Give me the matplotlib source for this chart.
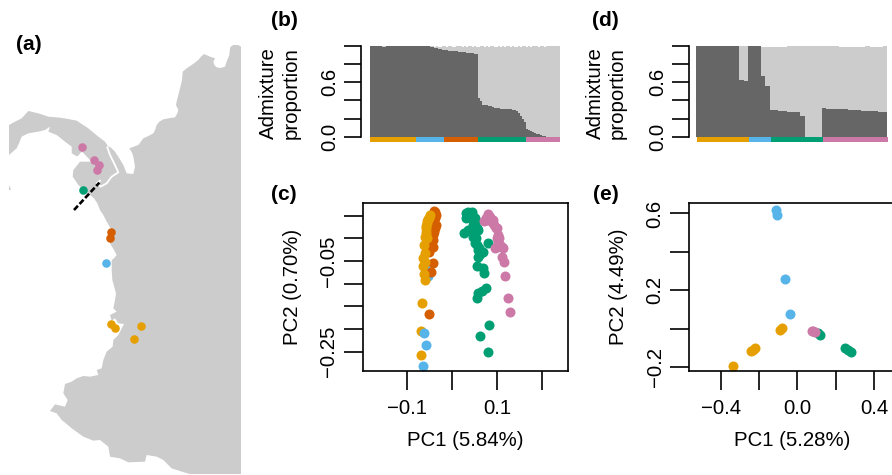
"""Admixture map, barplots and PCA panels."""
import matplotlib; matplotlib.use("Agg")
import matplotlib.pyplot as plt
import numpy as np
plt.rcParams["font.family"] = ["Liberation Sans", "DejaVu Sans"]

W, H = 892, 475
ORANGE, SKY, VERM, GREEN, PINK = "#E69F00", "#56B4E9", "#D55E00", "#009E73", "#CC79A7"
DARK, LIGHT = "#666666", "#CCCCCC"
FS = 14.7

# ---------- map (units: 1/3 px, south part has its own y origin) ----------
coast_north_x = [723,712,700,692,690,688,681,675,662,650,643,640,645,630,612,603,595,575,560,548,547,545,535,531,528,535,532,525,505,490,478,470,466,460,445,430,415,388,396,400,405,400,380,370,358,345,332,
                 325,315,295,265,230,205,180,145,115,85,65,45,27,27,50,57,65,85,115,135,150,145,170,195,215,215,232,245,272,240,220,218,235,250,265,282,292,300,310,320,335,330,342]
coast_north_y = [50,44,45,50,55,75,92,110,114,112,105,95,85,80,72,80,90,105,115,125,140,155,195,210,225,240,250,262,265,268,275,285,298,310,318,325,345,355,368,380,410,432,430,405,385,365,352,
                 350,335,320,295,272,267,263,260,250,243,265,275,285,375,355,340,320,310,305,300,290,305,315,335,350,370,380,365,395,395,420,440,465,478,490,505,520,540,555,575,600,640,660]
coast_south_x = [350,342,335,335,337,348,345,340,350,330,335,345,355,372,355,340,338,320,310,305,290,295,270,250,230,215,195,190,203,195,165,150,170,185,200,215,250,280,300,325,330,360,385,435,440,470,490,515,545,570,723]
coast_south_y = [15,25,30,60,90,130,150,175,185,195,212,205,220,222,255,270,290,305,330,355,360,375,380,378,385,395,402,430,450,470,463,483,490,510,522,535,560,572,570,590,620,625,637,635,615,620,630,655,665,672,672]
islet_x = [27,33,27]
islet_y = [465,480,480]
border_x = [322,330,340,355,335,320,302,290,300]
border_y = [352,375,395,427,440,460,470,460,452]
inlet_x = [232,248,272]
inlet_y = [382,370,395]
transect_x = [222,298]
transect_y = [540,458]

site_pink = ([246,283,296,291], [352,391,404,421])
site_green = ([248], [480])
site_verm = ([333,329], [607,623])
site_sky = ([318], [698])
site_orange = ([333,346,422,402], [882,895,889,928])

# ---------- admixture (b) ----------
group_sizes_b = [23,14,17,24,17]
group_cols_b = [ORANGE,SKY,VERM,GREEN,PINK]
dark_b = [1,1,1,1,1,1,.985,.985,1,1,1,1,1,1,1,1,1,1,1,1,1,1,1,1,1,1,1,1,1,
          .995,.99,.985,.98,.975,.97,.965,.96,
          .955,.953,.95,.948,.945,.942,.94,.937,.935,.932,.93,.927,.925,.922,.92,.915,.91,
          .43,.39,.35,.35,.345,.34,.335,.33,
          .32,.32,.315,.31,.31,.305,.305,.30,.30,.295,.29,.285,
          .26,.23,.20,.16,.08,.07,.06,.05,.04,.035,.03,.02,.01,.005,0,0,0,0,0,0,0]
top_b = [1,1,1,1,1,1,1,1,1,1,1,1,1,1,1,1,1,1,1,1,1,1,1,1,1,1,1,1,1,1,1,1,
         .985,1,.985,.985,1,1,.985,1,1,.985,.985,1,1,1,.985,1,.985,1,1,.985,1,.985,.985,1,1,.985,1,
         .985,1,1,.985,.985,1,.985,1,.985,1,1,.985,1,.985,.985,1,.985,1,1,.985,1,.985,1,1,1,.985,1,1,.985,1,1,1,1,1,1,1]

# ---------- admixture (d) ----------
group_sizes_d = [12,5,12,15]
group_cols_d = [ORANGE,SKY,GREEN,PINK]
dark_d = [1,1,1,1,1,1,1,1,1,1,.625,.615,1,1,1,.67,.56,
          .295,.29,.285,.28,.275,.27,.27,.225,0,0,0,0,
          .315,.31,.31,.305,.30,.30,.295,.29,.29,.285,.285,.28,.28,.275,.275]
top_d = [1,1,1,1,1,1,1,1,1,1,1,1,1,1,1,.99,.99,.99,.99,.99,.99,1,1,1,1,1,1,1,1,
         1,1,1,1,.99,.99,.99,.99,.99,.99,1,.99,.99,.99,1]

# ---------- PCA (c) ----------
c_verm_x = [-.0387,-.0351,-.0410,-.0358,-.0387,-.0424,-.0410,-.0498,-.0424,-.0461,-.0513,-.0373,-.0373,-.0373,-.0410,-.0432]
c_verm_y = [.0603,.0515,.0404,.0294,.0147,-.0037,-.0184,-.0294,-.0551,-.0735,-.1662,.0574,.0441,.0221,.0074,-.0184]
c_sky_x = [-.0572,-.0594,-.0520,-.0616,-.0572,-.0646]
c_sky_y = [-.0147,-.0625,-.0831,-.2081,-.2346,-.2816]
c_orange_x = [-.0483,-.0520,-.0542,-.0572,-.0572,-.0542,-.0616,-.0587,-.0631,-.0587,-.0646,-.0616,-.0594,-.0653,-.0675,-.0675,-.0498,-.0542,-.0572,-.0572,-.0594]
c_orange_y = [.0515,.0426,.0331,.0221,.0074,.0015,-.0147,-.0331,-.0441,-.0515,-.0603,-.0794,-.0919,-.1419,-.2044,-.2574,.0456,.0382,.0279,.0147,.0037]
c_green_x = [.0314,.0314,.0439,.0513,.0476,.0587,.0269,.0365,.0476,.0513,.0587,.0587,.0697,.0808,.0557,.0697,.0705,.0749,.0661,.0587,.0550,.0815,.0616,.0801,
             .0365,.0439,.0365,.0461,.0513,.0550,.0476,.0535,.0565,.0609,.0624]
c_green_y = [.0551,.0456,.0529,.0441,.0294,.0184,.0110,.0184,.0037,-.0110,-.0257,-.0404,-.0309,-.0110,-.0603,-.0647,-.0757,-.1103,-.1162,-.1213,-.1309,-.1904,-.2154,-.2515,
             .0588,.0588,.0478,.0404,.0331,.0221,.0147,0,-.0147,-.0221,-.0353]
c_pink_x = [.0808,.0845,.0712,.0882,.0934,.0993,.1030,.1030,.0956,.1140,.1118,.1162,.1170,.1236,.1280,.1066,.0749,.0808,.0919,.0970,.1007,.1052,.1103,.0993,.0771]
c_pink_y = [.0529,.0478,.0382,.0368,.0294,.0221,.0074,-.0074,-.0206,-.0206,-.0404,-.0515,-.0831,-.1316,-.1618,-.0147,.0441,.0441,.0404,.0221,0,0,-.0184,-.0184,.0404]

# ---------- PCA (e) ----------
e_sky_x = [-.1113,-.1043,-.0626,-.0365]
e_sky_y = [.6163,.5903,.2569,.0764]
e_orange_x = [-.3339,-.2435,-.2330,-.2209,-.0904,-.0817]
e_orange_y = [-.1927,-.1163,-.1111,-.1024,-.0069,.0052]
e_green_x = [.1183,.1096,.2487,.2661,.2800]
e_green_y = [-.0330,-.0243,-.0990,-.1111,-.1198]
e_pink_x = [.0748,.0922,.0835]
e_pink_y = [-.0104,-.0156,-.0122]

fig = plt.figure(figsize=(W/100, H/100), dpi=100, facecolor="white")
def px_axes(l, t, r, b):
    return fig.add_axes([l/W, 1-b/H, (r-l)/W, (b-t)/H])
def ftext(x, y, s, **kw):
    kw.setdefault("fontsize", FS); kw.setdefault("ha", "center"); kw.setdefault("va", "center")
    fig.text(x/W, 1-y/H, s, **kw)

for x, y, s in [(28.7,44,"(a)"),(284,20,"(b)"),(605,20,"(d)"),(284,195,"(c)"),(606,195,"(e)")]:
    ftext(x, y, s, fontweight="bold", fontsize=15)

# map
ax = px_axes(0, 45, 241, 474)
ax.set_xlim(0, 723); ax.set_ylim(1332, 45); ax.axis("off")
land_x = coast_north_x + coast_south_x
land_y = coast_north_y + [v+660 for v in coast_south_y]
ax.fill(land_x, land_y, color=LIGHT, lw=0)
ax.fill(islet_x, islet_y, color=LIGHT, lw=0)
ax.plot(border_x, border_y, color="white", lw=1.3)
ax.plot(inlet_x, inlet_y, color="white", lw=1.0)
ax.plot(transect_x, transect_y, color="black", lw=1.9, ls=(0, (2.2, 0.9)))
for (xs, ys), col in [(site_pink,PINK),(site_green,GREEN),(site_verm,VERM),(site_sky,SKY),(site_orange,ORANGE)]:
    ax.scatter(xs, ys, s=38, color=col, lw=0, zorder=3, clip_on=False)

# admixture bars
def admix(rect, dark, top, sizes, cols, strip_x0, ylab_x):
    l, t, r, b, bar_l = rect
    ax = px_axes(l, t, r, b)
    n = len(dark)
    unit = (r-bar_l)/n
    ax.set_xlim((l-bar_l)/unit, n); ax.set_ylim(0, 1)
    idx = np.arange(n)
    ax.bar(idx, top, width=1, align="edge", color=LIGHT, lw=0, antialiased=False)
    ax.bar(idx, dark, width=1, align="edge", color=DARK, lw=0, antialiased=False)
    left = strip_x0
    for s, c in zip(sizes, cols):
        ax.bar(left, 0.055, width=s, bottom=-0.055, align="edge", color=c, lw=0, clip_on=False)
        left += s
    for k in ["top","right","bottom"]: ax.spines[k].set_visible(False)
    ax.spines["left"].set_linewidth(1.2)
    ax.set_xticks([])
    ax.set_yticks([0,.2,.4,.6,.8,1.0])
    ax.set_yticklabels(["0.0","","","0.6","",""], rotation=90, va="center", fontsize=FS)
    ax.tick_params(axis="y", length=12, width=1.2, pad=4)
    ftext(ylab_x, 93, "Admixture\nproportion", rotation=90, linespacing=1.22)

admix((361,46,560,136.7,370), dark_b, top_b, group_sizes_b, group_cols_b, 0, 280)
admix((689,46,887,136.7,696), dark_d, top_d, group_sizes_d, group_cols_d, 0.25, 606.5)

# PCA panels
def pca_axes(rect, xlim, ylim, xt, xtl, yt, ytl):
    ax = px_axes(*rect)
    ax.set_xlim(*xlim); ax.set_ylim(*ylim)
    for sp in ax.spines.values(): sp.set_linewidth(1.2)
    ax.set_xticks(xt); ax.set_xticklabels(xtl, fontsize=FS)
    ax.set_yticks(yt); ax.set_yticklabels(ytl, rotation=90, va="center", fontsize=FS)
    ax.tick_params(axis="x", length=13.7, width=1.2, pad=7)
    ax.tick_params(axis="y", length=13.7, width=1.2, pad=4)
    return ax

PT = 52
ax = pca_axes((362.7,203.3,568,370.7), (-.1974,.2572), (-.2919,.0772),
              [-.1,0,.1,.2], ["\u22120.1","","0.1",""],
              [.05,0,-.05,-.10,-.15,-.20,-.25], ["","","\u22120.05","","","","\u22120.25"])
sky_x, sky_y = np.array(c_sky_x), np.array(c_sky_y)
ax.scatter(sky_x[sky_y > -.2], sky_y[sky_y > -.2], s=PT, color=SKY, lw=0)
ax.scatter(c_verm_x, c_verm_y, s=PT, color=VERM, lw=0)
ax.scatter(c_orange_x, c_orange_y, s=PT, color=ORANGE, lw=0)
ax.scatter(sky_x[sky_y <= -.2], sky_y[sky_y <= -.2], s=PT, color=SKY, lw=0)
ax.scatter(c_green_x, c_green_y, s=PT, color=GREEN, lw=0)
ax.scatter(c_pink_x, c_pink_y, s=PT, color=PINK, lw=0)
ftext(465, 441, "PC1 (5.84%)")
ftext(293, 287, "PC2 (0.70%)", rotation=90)

# right edge of panel (e) runs past the figure
r_e = 905
x_per_px = 0.2/38.33
ax = pca_axes((689.3,203.3,r_e,370.7), ((689.3-797.3)*x_per_px,(r_e-797.3)*x_per_px), (-.2188,.6528),
              [-.4,-.2,0,.2,.4], ["\u22120.4","","0.0","","0.4"],
              [-.2,0,.2,.4,.6], ["\u22120.2","","0.2","","0.6"])
ax.scatter(e_sky_x, e_sky_y, s=PT, color=SKY, lw=0)
ax.scatter(e_orange_x, e_orange_y, s=PT, color=ORANGE, lw=0)
ax.scatter(e_green_x, e_green_y, s=PT, color=GREEN, lw=0)
ax.scatter(e_pink_x, e_pink_y, s=PT, color=PINK, lw=0)
ftext(791.8, 441, "PC1 (5.28%)")
ftext(619, 287, "PC2 (4.49%)", rotation=90)

fig.savefig("out.png", dpi=100, facecolor="white")
